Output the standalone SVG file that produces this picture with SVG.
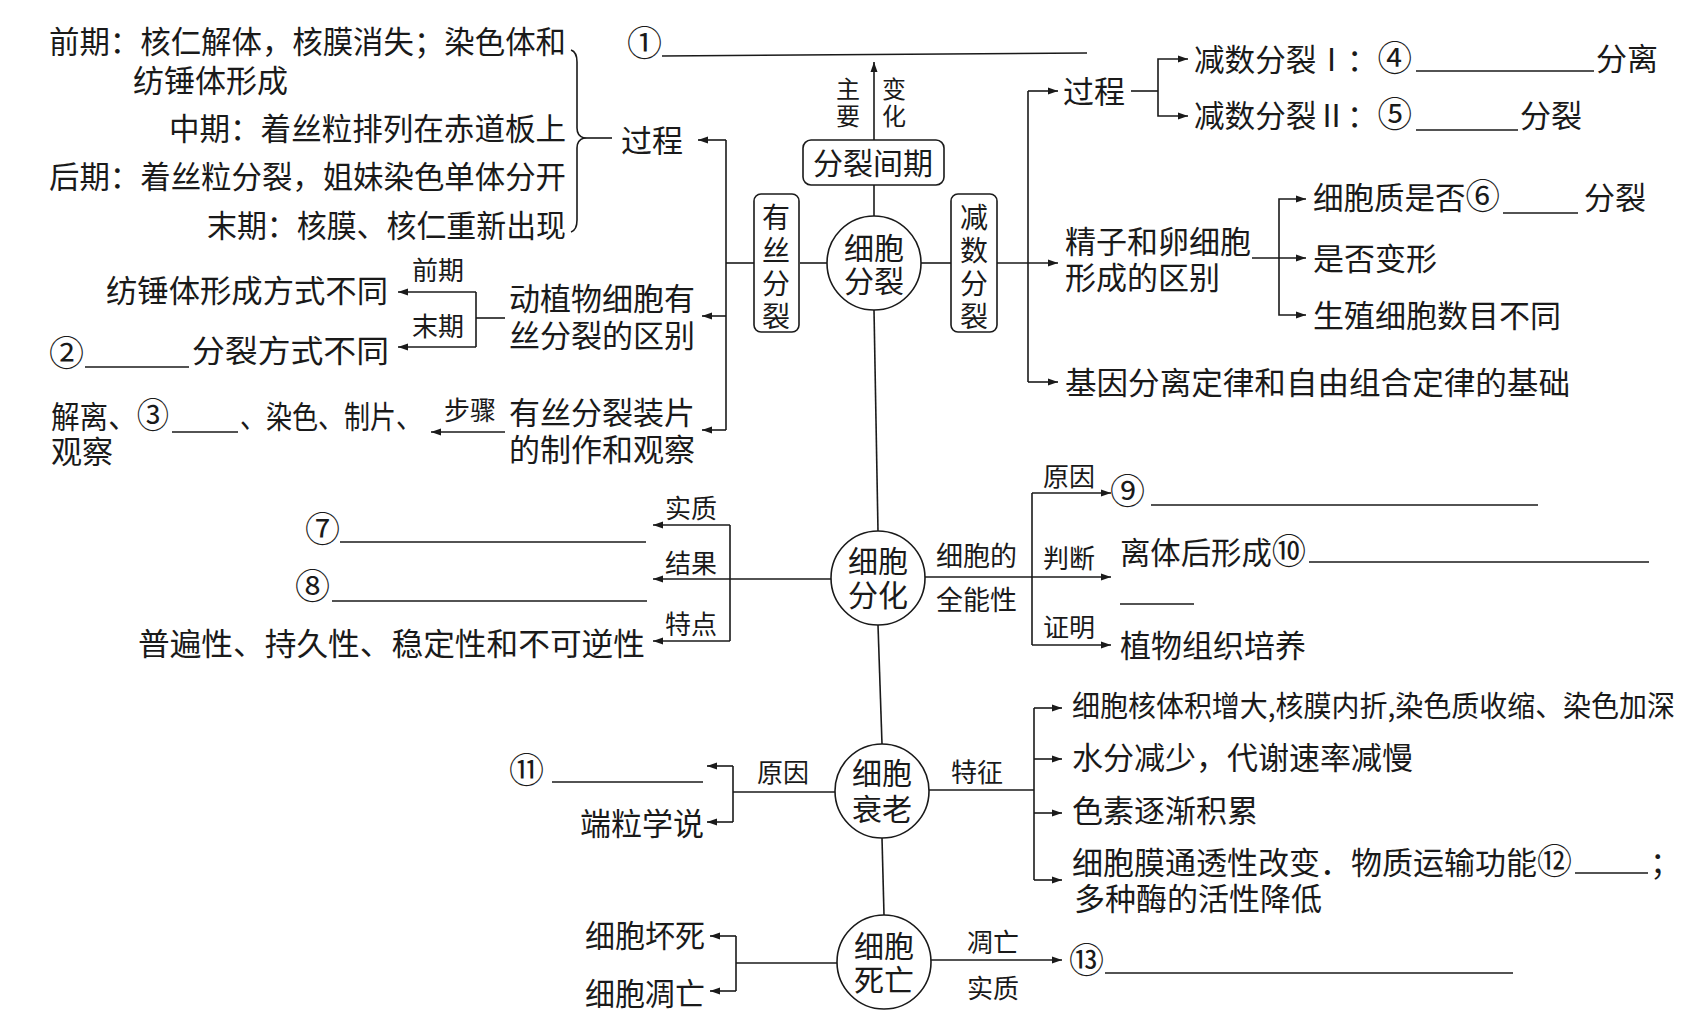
<svg xmlns="http://www.w3.org/2000/svg" width="1707" height="1034" viewBox="0 0 1707 1034">
<style>
text{font-family:"Noto Sans CJK SC","Noto Sans",sans-serif;font-size:31px;fill:#1a1a1a}
.s{font-size:26px}
.m{font-size:30px;text-anchor:middle}
.v{font-size:28px;text-anchor:middle}
.k{font-size:24px;text-anchor:middle}
.n{font-size:35px}
.ln{stroke:#1a1a1a;stroke-width:1.6;fill:none}
.a{stroke:#1a1a1a;stroke-width:1.6;fill:none;marker-end:url(#ah)}
.box{fill:#fff;stroke:#1a1a1a;stroke-width:1.6}
</style>
<defs>
<marker id="ah" markerUnits="userSpaceOnUse" markerWidth="10" markerHeight="8" refX="10" refY="4" orient="auto">
<path d="M0,0.5 L10,4 L0,7.5 Z" fill="#1a1a1a"/>
</marker>
</defs>
<rect width="1707" height="1034" fill="#fff"/>

<g id="connectors">
<path class="ln" d="M571,50 Q577,52 577,62 V128 Q577,136 584,138 Q577,140 577,148 V220 Q577,230 571,232"/>
<path class="ln" d="M584,138 H612"/>
<path class="ln" d="M726,140 V430"/>
<path class="a" d="M726,140 H698"/>
<path class="a" d="M726,316 H702"/>
<path class="a" d="M726,430 H702"/>
<path class="ln" d="M754,263 H726"/>
<path class="ln" d="M800,263 H827"/>
<path class="ln" d="M874,185 V216"/>
<path class="a" d="M874,140 V62"/>
<path class="ln" d="M921,263 H951"/>
<path class="a" d="M997,263 H1058"/>
<path class="ln" d="M1028,91 V382"/>
<path class="a" d="M1028,91 H1058"/>
<path class="a" d="M1028,382 H1058"/>
<path class="ln" d="M1131,91 H1158"/>
<path class="a" d="M1158,91 V59 H1188"/>
<path class="a" d="M1158,91 V116 H1188"/>
<path class="a" d="M1252,258 H1306"/>
<path class="a" d="M1279,258 V199 H1306"/>
<path class="a" d="M1279,258 V315 H1306"/>
<path class="a" d="M476,292 H398"/>
<path class="ln" d="M476,292 V347"/>
<path class="a" d="M476,347 H398"/>
<path class="ln" d="M476,318 H505"/>
<path class="a" d="M505,432 H431"/>
<path class="ln" d="M874,310 L878,531"/>
<path class="ln" d="M878,625 L882,744"/>
<path class="ln" d="M882,838 L884,915"/>
<path class="ln" d="M831,579 H730"/>
<path class="ln" d="M730,525 V641"/>
<path class="a" d="M730,525 H653"/>
<path class="a" d="M730,579 H653"/>
<path class="a" d="M730,641 H653"/>
<path class="a" d="M925,577 H1111"/>
<path class="ln" d="M1032,493 V645"/>
<path class="a" d="M1032,493 H1111"/>
<path class="a" d="M1032,645 H1111"/>
<path class="ln" d="M835,792 H733"/>
<path class="ln" d="M733,766 V822"/>
<path class="a" d="M733,766 H707"/>
<path class="a" d="M733,822 H707"/>
<path class="ln" d="M929,790 H1034"/>
<path class="ln" d="M1034,708 V880"/>
<path class="a" d="M1034,708 H1062"/>
<path class="a" d="M1034,759 H1062"/>
<path class="a" d="M1034,813 H1062"/>
<path class="a" d="M1034,880 H1062"/>
<path class="ln" d="M837,963 H736"/>
<path class="ln" d="M736,936 V991"/>
<path class="a" d="M736,936 H710"/>
<path class="a" d="M736,991 H710"/>
<path class="a" d="M931,960 H1062"/>
<path class="ln" d="M662,56 L1087,53"/>
<path class="ln" d="M1416,71 H1594"/>
<path class="ln" d="M1416,130 H1518"/>
<path class="ln" d="M1503,213 H1578"/>
<path class="ln" d="M85,367 H189"/>
<path class="ln" d="M172,432 H238"/>
<path class="ln" d="M340,542 H646"/>
<path class="ln" d="M332,601 H647"/>
<path class="ln" d="M1151,505 H1538"/>
<path class="ln" d="M1309,562 H1649"/>
<path class="ln" d="M1120,604 H1194"/>
<path class="ln" d="M552,782 H703"/>
<path class="ln" d="M1575,873 H1648"/>
<path class="ln" d="M1105,973 H1513"/>
</g>

<g id="n-division">
<circle class="box" cx="874" cy="263" r="47"/>
<text class="m" x="874" y="259">细胞</text>
<text class="m" x="874" y="292">分裂</text>
</g>
<g id="n-interphase">
<rect class="box" x="803" y="140" width="141" height="45" rx="8"/>
<text class="m" x="873" y="174">分裂间期</text>
<text class="k" x="848" y="98">主</text>
<text class="k" x="848" y="125">要</text>
<text class="k" x="894" y="98">变</text>
<text class="k" x="894" y="125">化</text>
<text class="n" x="627" y="56">①</text>
</g>
<g id="n-mitosis">
<rect class="box" x="754" y="194" width="45" height="138" rx="7"/>
<text class="v" x="776" y="228">有</text>
<text class="v" x="776" y="261">丝</text>
<text class="v" x="776" y="294">分</text>
<text class="v" x="776" y="327">裂</text>
</g>
<g id="n-mitosis-process">
<text x="49" y="53" textLength="517" lengthAdjust="spacingAndGlyphs">前期：核仁解体，核膜消失；染色体和</text>
<text x="133" y="92">纺锤体形成</text>
<text x="169" y="140" textLength="397" lengthAdjust="spacingAndGlyphs">中期：着丝粒排列在赤道板上</text>
<text x="49" y="188" textLength="517" lengthAdjust="spacingAndGlyphs">后期：着丝粒分裂，姐妹染色单体分开</text>
<text x="207" y="237" textLength="359" lengthAdjust="spacingAndGlyphs">末期：核膜、核仁重新出现</text>
<text x="621" y="152">过程</text>
</g>
<g id="n-plant-animal">
<text x="509" y="310">动植物细胞有</text>
<text x="509" y="347">丝分裂的区别</text>
<text class="s" x="412" y="280">前期</text>
<text class="s" x="412" y="336">末期</text>
<text x="106" y="302" textLength="282" lengthAdjust="spacingAndGlyphs">纺锤体形成方式不同</text>
<text class="n" x="49" y="366">②</text>
<text x="192" y="362" textLength="197" lengthAdjust="spacingAndGlyphs">分裂方式不同</text>
</g>
<g id="n-slide">
<text x="509" y="424">有丝分裂装片</text>
<text x="509" y="461">的制作和观察</text>
<text class="s" x="444" y="420">步骤</text>
<text x="51" y="428" textLength="118" lengthAdjust="spacingAndGlyphs">解离、<tspan class="n">③</tspan></text>
<text x="240" y="428" textLength="182" lengthAdjust="spacingAndGlyphs">、染色、制片、</text>
<text x="51" y="463">观察</text>
</g>
<g id="n-meiosis">
<rect class="box" x="951" y="194" width="46" height="138" rx="7"/>
<text class="v" x="974" y="228">减</text>
<text class="v" x="974" y="261">数</text>
<text class="v" x="974" y="294">分</text>
<text class="v" x="974" y="327">裂</text>
</g>
<g id="n-meiosis-process">
<text x="1063" y="103">过程</text>
<text x="1194" y="71" textLength="218" lengthAdjust="spacingAndGlyphs">减数分裂Ⅰ：<tspan class="n">④</tspan></text>
<text x="1596" y="70">分离</text>
<text x="1194" y="127" textLength="218" lengthAdjust="spacingAndGlyphs">减数分裂Ⅱ：<tspan class="n">⑤</tspan></text>
<text x="1520" y="127">分裂</text>
</g>
<g id="n-gamete">
<text x="1065" y="253">精子和卵细胞</text>
<text x="1065" y="289">形成的区别</text>
<text x="1313" y="209" textLength="187" lengthAdjust="spacingAndGlyphs">细胞质是否<tspan class="n">⑥</tspan></text>
<text x="1584" y="209">分裂</text>
<text x="1313" y="270">是否变形</text>
<text x="1313" y="327">生殖细胞数目不同</text>
</g>
<g id="n-law">
<text x="1065" y="394" textLength="505" lengthAdjust="spacingAndGlyphs">基因分离定律和自由组合定律的基础</text>
</g>
<g id="n-differentiation">
<circle class="box" cx="878" cy="578" r="47"/>
<text class="m" x="878" y="572">细胞</text>
<text class="m" x="878" y="606">分化</text>
</g>
<g id="n-diff-left">
<text class="s" x="665" y="518">实质</text>
<text class="s" x="665" y="573">结果</text>
<text class="s" x="665" y="634">特点</text>
<text class="n" x="305" y="542">⑦</text>
<text class="n" x="295" y="599">⑧</text>
<text x="138" y="655" textLength="507" lengthAdjust="spacingAndGlyphs">普遍性、持久性、稳定性和不可逆性</text>
</g>
<g id="n-totipotency">
<text class="s" x="936" y="566" style="font-size:27px">细胞的</text>
<text class="s" x="936" y="610" style="font-size:27px">全能性</text>
<text class="s" x="1043" y="486">原因</text>
<text class="s" x="1043" y="568">判断</text>
<text class="s" x="1043" y="637">证明</text>
<text class="n" x="1110" y="504">⑨</text>
<text x="1120" y="564" textLength="186" lengthAdjust="spacingAndGlyphs">离体后形成<tspan class="n">⑩</tspan></text>
<text x="1120" y="657">植物组织培养</text>
</g>
<g id="n-aging">
<circle class="box" cx="882" cy="791" r="47"/>
<text class="m" x="882" y="784">细胞</text>
<text class="m" x="882" y="820">衰老</text>
</g>
<g id="n-aging-cause">
<text class="s" x="757" y="782">原因</text>
<text class="n" x="509" y="783">⑪</text>
<text x="580" y="835">端粒学说</text>
</g>
<g id="n-aging-feature">
<text class="s" x="951" y="782">特征</text>
<text x="1072" y="717" style="font-size:29px" textLength="603" lengthAdjust="spacingAndGlyphs">细胞核体积增大,核膜内折,染色质收缩、染色加深</text>
<text x="1072" y="769">水分减少，代谢速率减慢</text>
<text x="1072" y="822">色素逐渐积累</text>
<text x="1072" y="874" textLength="500" lengthAdjust="spacingAndGlyphs">细胞膜通透性改变．物质运输功能<tspan class="n">⑫</tspan></text>
<text x="1650" y="874">；</text>
<text x="1074" y="910">多种酶的活性降低</text>
</g>
<g id="n-death">
<circle class="box" cx="884" cy="962" r="47"/>
<text class="m" x="884" y="957">细胞</text>
<text class="m" x="884" y="991">死亡</text>
</g>
<g id="n-death-type">
<text x="585" y="947" textLength="120" lengthAdjust="spacingAndGlyphs">细胞坏死</text>
<text x="585" y="1005" textLength="120" lengthAdjust="spacingAndGlyphs">细胞凋亡</text>
</g>
<g id="n-apoptosis">
<text class="s" x="967" y="952">凋亡</text>
<text class="s" x="967" y="998">实质</text>
<text class="n" x="1069" y="973">⑬</text>
</g>
</svg>
